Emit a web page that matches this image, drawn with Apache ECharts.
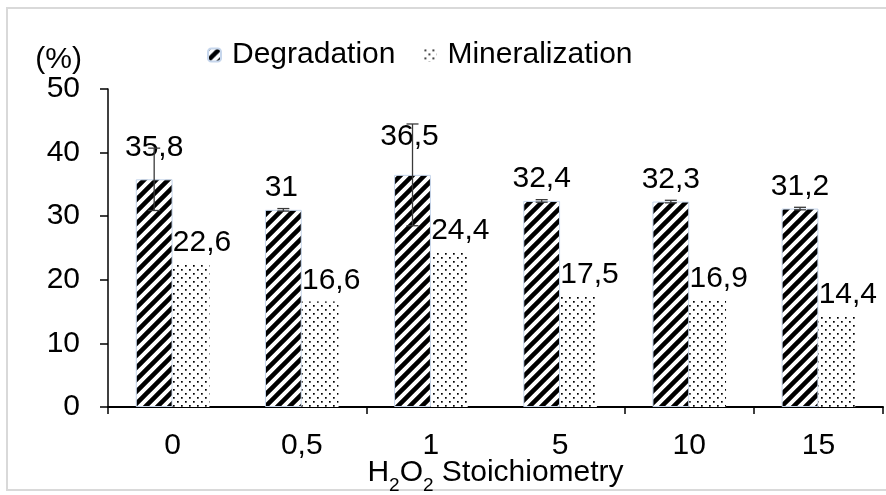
<!DOCTYPE html>
<html>
<head>
<meta charset="utf-8">
<script src="https://cdn.jsdelivr.net/npm/echarts@6/dist/echarts.min.js"></script>
<style>
html,body{margin:0;padding:0;background:#fff;}
#chart{width:886px;height:495px;}
</style>
</head>
<body>
<div id="chart"></div>
<script>
const categories = ['0', '0,5', '1', '5', '10', '15'];
const degradation = [35.8, 31, 36.5, 32.4, 32.3, 31.2];
const mineralization = [22.6, 16.6, 24.4, 17.5, 16.9, 14.4];
const degradationError = [4.9, 0.2, 8.0, 0.2, 0.2, 0.2];
const yTicks = {min: 0, max: 50, interval: 10};

const FONT = '"Liberation Sans", Arial, sans-serif';
const FS = 30;

function stripePattern() {
  const s = 12;
  const c = document.createElement('canvas');
  c.width = s; c.height = s;
  const ctx = c.getContext('2d');
  ctx.fillStyle = '#fff';
  ctx.fillRect(0, 0, s, s);
  ctx.strokeStyle = '#000';
  ctx.lineWidth = 4.5;
  ctx.beginPath();
  ctx.moveTo(-s, s * 2); ctx.lineTo(s * 2, -s);
  ctx.moveTo(-s, s); ctx.lineTo(s, -s);
  ctx.moveTo(0, s * 2); ctx.lineTo(s * 2, 0);
  ctx.stroke();
  return c;
}
function dotPattern() {
  const s = 8;
  const c = document.createElement('canvas');
  c.width = s; c.height = s;
  const ctx = c.getContext('2d');
  ctx.fillStyle = '#fff';
  ctx.fillRect(0, 0, s, s);
  ctx.fillStyle = '#000';
  ctx.fillRect(1, 1, 1.7, 1.7);
  ctx.fillRect(5, 5, 1.7, 1.7);
  return c;
}

const chart = echarts.init(document.getElementById('chart'), null, {renderer: 'canvas'});
const CAT_GAP = 0.43;

const degLabelOffsets = [[0, -10], [-2, 0], [-3, -16], [0, 0], [0, 0], [0, 0]];

const option = {
  backgroundColor: '#fff',
  animation: false,
  graphic: [{
    type: 'rect',
    shape: {x: 7, y: 8, width: 900, height: 482},
    style: {fill: 'none', stroke: '#d9d9d9', lineWidth: 2},
    silent: true, z: -10
  }],
  legend: {
    left: 202,
    top: 35,
    itemWidth: 13,
    itemHeight: 13,
    itemGap: 28,
    textStyle: {fontFamily: FONT, fontSize: FS, color: '#000', padding: [0, 0, 0, 6]},
    data: ['Degradation', 'Mineralization']
  },
  grid: {left: 108, right: 3, top: 89, bottom: 88, containLabel: false, outerBoundsMode: 'none'},
  xAxis: {
    type: 'category',
    data: categories,
    name: '{a|H}{s|2}{a|O}{s|2}{a| Stoichiometry}',
    nameLocation: 'middle',
    nameGap: 51,
    nameMoveOverlap: false,
    nameTextStyle: {
      rich: {
        a: {fontFamily: FONT, fontSize: FS, color: '#000', lineHeight: 30},
        s: {fontFamily: FONT, fontSize: 19, color: '#000', lineHeight: 19, padding: [26, 0, 0, 0]}
      }
    },
    axisLine: {lineStyle: {color: '#000', width: 2}},
    axisTick: {show: true, interval: 1, length: 7, lineStyle: {color: '#000', width: 1.5}},
    axisLabel: {interval: 0, margin: 24, fontFamily: FONT, fontSize: FS, color: '#000'},
    splitLine: {show: false}
  },
  yAxis: {
    type: 'value',
    min: yTicks.min, max: yTicks.max, interval: yTicks.interval,
    name: '(%)',
    nameLocation: 'end',
    nameGap: 14,
    nameMoveOverlap: false,
    nameTextStyle: {fontFamily: FONT, fontSize: FS, color: '#000', align: 'right', verticalAlign: 'bottom', padding: [0, 26, 0, 0]},
    axisLine: {show: true, lineStyle: {color: '#000', width: 1.5}},
    axisTick: {show: true, length: 8, lineStyle: {color: '#000', width: 1.5}},
    axisLabel: {margin: 28, fontFamily: FONT, fontSize: FS, color: '#000'},
    splitLine: {show: false}
  },
  series: [
    {
      name: 'Degradation',
      type: 'bar',
      barGap: '0%',
      barCategoryGap: (CAT_GAP * 100) + '%',
      itemStyle: {color: {image: stripePattern(), repeat: 'repeat'}, borderColor: '#c6d6ec', borderWidth: 1},
      label: {show: true, position: 'top', distance: 7, fontFamily: FONT, fontSize: FS, color: '#000',
        formatter: p => String(p.value).replace('.', ',')},
      data: degradation.map((v, i) => ({value: v, label: {offset: degLabelOffsets[i]}})),
      z: 2
    },
    {
      name: 'Mineralization',
      type: 'bar',
      barGap: '0%',
      barCategoryGap: (CAT_GAP * 100) + '%',
      itemStyle: {color: {image: dotPattern(), repeat: 'repeat'}},
      label: {show: true, position: 'top', distance: 6, offset: [11, 0], fontFamily: FONT, fontSize: FS, color: '#000',
        formatter: p => String(p.value).replace('.', ',')},
      data: mineralization,
      z: 2
    },
    {
      name: 'err',
      type: 'custom',
      z: 5,
      silent: true,
      data: degradation.map((v, i) => [i, v, degradationError[i]]),
      encode: {x: 0, y: 1},
      renderItem: function (params, api) {
        const idx = api.value(0);
        const val = api.value(1);
        const err = api.value(2);
        const catW = api.size([1, 0])[0];
        const barW = catW * (1 - CAT_GAP) / 2;
        const center = api.coord([idx, val]);
        const x = center[0] - barW / 2;
        const top = api.coord([idx, val + err])[1];
        const bot = api.coord([idx, val - err])[1];
        const cap = 6;
        const st = {stroke: '#3a3a3a', lineWidth: 1.3};
        return {
          type: 'group',
          children: [
            {type: 'line', shape: {x1: x, y1: top, x2: x, y2: bot}, style: st},
            {type: 'line', shape: {x1: x - cap, y1: top, x2: x + cap, y2: top}, style: st},
            {type: 'line', shape: {x1: x - cap, y1: bot, x2: x + cap, y2: bot}, style: st}
          ]
        };
      }
    }
  ]
};
chart.setOption(option);
</script>
</body>
</html>
